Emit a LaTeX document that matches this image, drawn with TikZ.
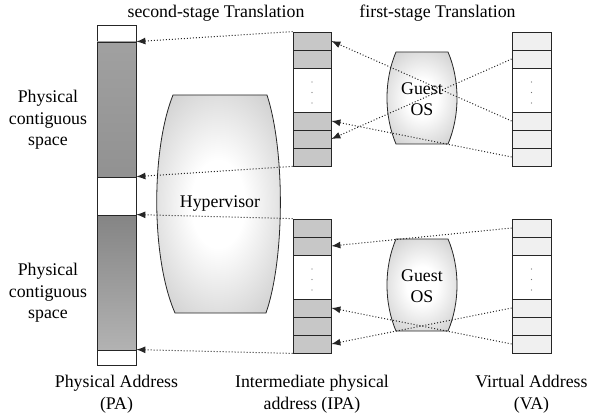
\documentclass[tikz,border=0pt]{standalone}
\usepackage{fontspec}
\setmainfont{Liberation Serif}
\usetikzlibrary{arrows.meta}

% soft grey body for the Hypervisor and Guest OS blocks
\pgfdeclareradialshading{osshade}{\pgfpoint{0bp}{0bp}}{color(0bp)=(white); color(10bp)=(white); color(50bp)=(black!35)}

\tikzset{
    cell/.style={draw=black!85, line width=0.8pt, inner sep=0pt, minimum width=38pt},
    ipacell/.style={cell, fill=black!22, minimum height=18pt},
    vacell/.style={cell, fill=black!6, minimum height=18pt},
    gapcell/.style={cell, fill=white, minimum height=44pt},
    pacell/.style={cell, minimum width=39pt},
    txt/.style={font=\fontsize{17.8}{21.5}\selectfont, align=center, inner sep=0pt},
    map/.style={line width=1pt, dash pattern=on 1pt off 2pt, black!85, -{Latex[length=9pt,width=7pt]}},
    barrel/.style={draw=black!85, line width=0.8pt, shading=osshade}
}

\begin{document}
\begin{tikzpicture}[x=1pt, y=-1pt]
    \useasboundingbox (0,0) rectangle (589,417);

    % Physical address column
    \node[pacell, minimum height=17pt] (pa1) at (116.5,33.5) {};
    \node[pacell, minimum height=135pt, top color=black!37, bottom color=black!43] (pa2) at (116.5,109.5) {};
    \node[pacell, minimum height=38pt] (pa3) at (116.5,196) {};
    \node[pacell, minimum height=135pt, top color=black!48, bottom color=black!30] (pa4) at (116.5,282.5) {};
    \node[pacell, minimum height=15pt] (pa5) at (116.5,357.5) {};

    % Hypervisor
    \draw[barrel] (173,95) -- (267,95) .. controls (285,150) and (285,258) .. (266,313)
        -- (175,313) .. controls (151,258) and (151,150) .. (173,95) -- cycle;
    \node[txt] (hyp) at (220,204) {Hypervisor};

    % IPA and VA columns with a Guest OS between them
    \foreach \g/\dy in {A/0,B/187} {
        \foreach \k/\y in {1/41,2/59,4/121,5/139,6/157} {
            \node[ipacell] (ipa\g\k) at (312,\y+\dy) {};
            \node[vacell, minimum width=39pt] (va\g\k) at (531.5,\y+\dy) {};
        }
        \node[gapcell] (ipa\g3) at (312,90+\dy) {};
        \node[gapcell, minimum width=39pt] (va\g3) at (531.5,90+\dy) {};
        \foreach \d in {-8,2.5,13} {
            \fill[black!55] (312,90+\dy+\d) circle (0.6);
            \fill[black!55] (531.5,90+\dy+\d) circle (0.6);
        }

        \draw[barrel] (396,52+\dy) -- (448,52+\dy) .. controls (460,80+\dy) and (460,116+\dy) .. (448,144+\dy)
            -- (396,144+\dy) .. controls (384,116+\dy) and (384,80+\dy) .. (396,52+\dy) -- cycle;
        \node[txt] (os\g) at (422,99+\dy) {Guest\\OS};
    }

    % second-stage mappings
    \draw[map] (ipaA1.north west) -- (pa2.north east);
    \draw[map] (ipaA6.south west) -- (pa3.north east);
    \draw[map] (ipaB1.north west) -- (pa4.north east);
    \draw[map] (ipaB6.south west) -- (pa5.north east);

    % first-stage mappings
    \draw[map] (vaA2.west) -- (ipaA5.east);
    \draw[map] (vaA4.west) -- (ipaA1.east);
    \draw[map] (vaA6.west) -- (ipaA4.east);
    \draw[map] (vaB1.west) -- (ipaB2.east);
    \draw[map] (vaB4.west) -- (ipaB6.east);
    \draw[map] (vaB6.west) -- (ipaB4.east);

    % Labels
    \node[txt] (stage2) at (216,13) {second-stage Translation};
    \node[txt] (stage1) at (437.5,13) {first-stage Translation};
    \node[txt] (spaceA) at (48,120) {Physical\\contiguous\\space};
    \node[txt] (spaceB) at (48,293) {Physical\\contiguous\\space};
    \node[txt] (paname) at (116.5,394) {Physical Address\\(PA)};
    \node[txt] (ipaname) at (312,394) {Intermediate physical\\address (IPA)};
    \node[txt] (vaname) at (531.5,394) {Virtual Address\\(VA)};
\end{tikzpicture}
\end{document}
